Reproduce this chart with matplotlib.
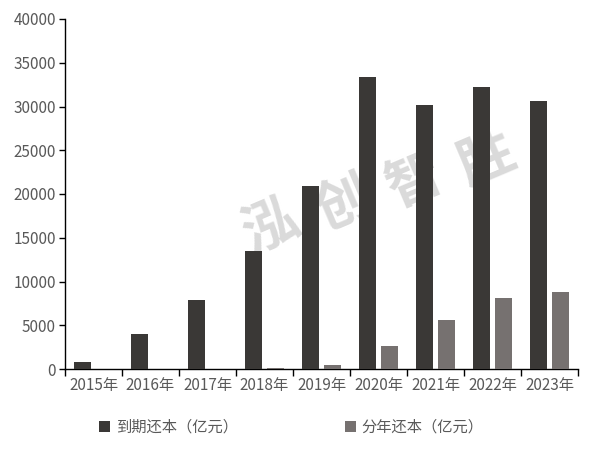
import numpy as np
import matplotlib.pyplot as plt
from matplotlib.ticker import FixedLocator

plt.rcParams['font.family'] = ['Noto Sans CJK SC', 'DejaVu Sans']

years = ['2015年', '2016年', '2017年', '2018年', '2019年', '2020年', '2021年', '2022年', '2023年']
due_repay = [830, 4030, 7920, 13520, 20950, 33400, 30200, 32250, 30650]
annual_repay = [0, 0, 0, 110, 490, 2660, 5630, 8150, 8830]
labels = ['到期还本（亿元）', '分年还本（亿元）']

dark = '#3a3836'
light = '#767170'
txt = '#595959'

fig = plt.figure(figsize=(5.95, 4.54), dpi=100)
ax = fig.add_axes([65 / 595, 85 / 454, 513 / 595, 350 / 454])

x = np.arange(len(years))
w = 0.298
off = 0.193
ax.bar(x - off, due_repay, w, color=dark, label=labels[0], zorder=3)
ax.bar(x + off, annual_repay, w, color=light, label=labels[1], zorder=3)

ax.set_xlim(-0.5, len(years) - 0.5)
ax.set_ylim(0, 40000)
ax.set_yticks(range(0, 40001, 5000))
ax.set_xticks(x)
ax.set_xticklabels(years)
ax.xaxis.set_minor_locator(FixedLocator(np.arange(-0.5, len(years), 1)))

for s in ['top', 'right']:
    ax.spines[s].set_visible(False)
for s in ['left', 'bottom']:
    ax.spines[s].set_color('black')
    ax.spines[s].set_linewidth(1.0)

ax.tick_params(axis='y', direction='out', length=4.5, width=1, color='black',
               labelsize=11, labelcolor=txt, pad=2)
ax.tick_params(axis='x', which='major', length=0, labelsize=11, labelcolor=txt, pad=6)
ax.tick_params(axis='x', which='minor', direction='out', length=5, width=1, color='black')

# watermark behind the bars
wm_chars = '泓创智胜'
ang = 17
for i, ch in enumerate(wm_chars):
    cx = 271 + i * 72
    cy = 227 - i * 22.5
    fig.text(cx / 595, 1 - cy / 454, ch, fontsize=40, fontweight='bold',
             color='#dadada', rotation=ang + 6, ha='center', va='center', zorder=0)
ax.set_facecolor('none')
ax.set_zorder(2)

fig.legend(loc='center', bbox_to_anchor=(0.49, 1 - 427 / 454), ncol=2, frameon=False,
           fontsize=11, labelcolor=txt, handlelength=0.7, handleheight=0.7,
           handletextpad=0.4, columnspacing=7.0)

fig.savefig('out.png', dpi=100)
